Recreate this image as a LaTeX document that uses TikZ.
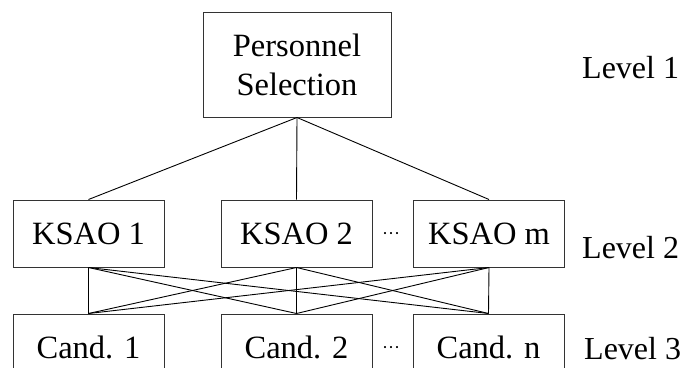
\documentclass[tikz,border=0pt]{standalone}
\usepackage{fontspec}
\setmainfont{Liberation Serif}
\begin{document}
\begin{tikzpicture}[x=1pt,y=-1pt,
  box/.style={draw=black!80, line width=1pt, inner sep=0pt,
    minimum width=151pt, minimum height=67pt,
    font=\fontsize{32.5}{39}\selectfont},
  link/.style={line width=0.9pt},
  lvl/.style={anchor=base west, inner sep=0pt, font=\fontsize{32}{39}\selectfont},
  gap/.style={inner sep=0pt, font=\fontsize{18}{18}\selectfont}]
\useasboundingbox (0,0) rectangle (680,367);

% level 1: goal
\node[box, minimum width=188pt, minimum height=105pt, align=center]
  (ps) at (297,64.5) {Personnel\\Selection};

% level 2: criteria
\node[box] (k1) at (88.5,233.5) {KSAO 1};
\node[box] (k2) at (296.5,233.5) {KSAO 2};
\node[box] (km) at (489,233.5) {KSAO m};
\node[gap] (d1) at (391,236) {···};

% level 3: alternatives
\node[box] (c1) at (88.5,347.5) {Cand. 1};
\node[box] (c2) at (296.5,347.5) {Cand. 2};
\node[box] (cn) at (488.5,347.5) {Cand. n};
\node[gap] (d2) at (391,350) {···};

% level labels
\node[lvl] (l1) at (582,78) {Level 1};
\node[lvl] (l2) at (582,258) {Level 2};
\node[lvl] (l3) at (584,359) {Level 3};

% connectors
\foreach \k in {k1,k2,km}
  \draw[link] (ps.south) -- (\k.north);
\foreach \k in {k1,k2,km}
  \foreach \c in {c1,c2,cn}
    \draw[link] (\k.south) -- (\c.north);
\end{tikzpicture}
\end{document}
